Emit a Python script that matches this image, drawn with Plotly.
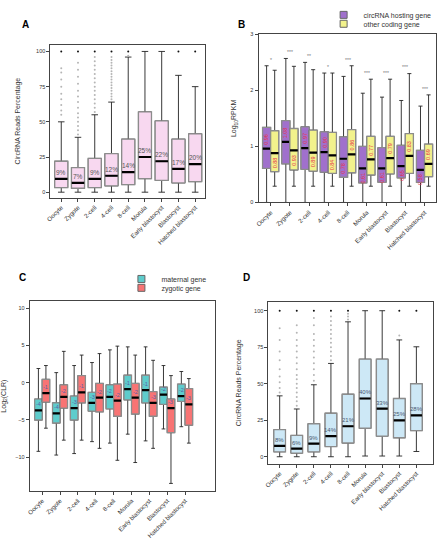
import plotly.graph_objects as go

stages = ["Oocyte", "Zygote", "2-cell", "4-cell", "8-cell", "Morula",
          "Early blastocyst", "Blastocyst", "Hatched blastocyst"]
pos = list(range(len(stages)))

# ---------------- Panel A : circRNA reads percentage ----------------
a_low = [0, 0, 0, 0, 0, 0, 0, 0, 0]
a_q1 = [3.3, 2.8, 3.3, 4.5, 5.4, 9.6, 8.4, 6.6, 7.5]
a_med = [9.4, 6.6, 9.4, 11.7, 14.3, 25.0, 22.0, 16.6, 20.0]
a_q3 = [22.0, 17.5, 24.0, 27.4, 37.7, 57.0, 50.6, 37.7, 41.5]
a_high = [50, 39, 55, 64, 96, 100, 100, 83, 75]
a_labels = ["9%", "7%", "9%", "12%", "14%", "25%", "22%", "17%", "20%"]
a_outliers = [
    [55, 58, 62, 66, 70, 75, 80, 85, 88, 100],
    [41, 44, 47, 50, 53, 56, 60, 64, 68, 72, 77, 82, 87, 92, 100],
    [57, 60, 63, 66, 69, 72, 75, 78, 81, 84, 87, 90, 93, 96, 100],
    [66, 68, 70, 72, 74, 76, 78, 80, 82, 84, 86, 88, 90, 92, 94, 96, 100],
    [97, 100],
    [],
    [],
    [100],
    [100],
]

# ---------------- Panel B : Log10 RPKM ----------------
b_host_low = [0, 0, 0, 0, 0, 0, 0, 0, 0]
b_host_q1 = [0.61, 0.69, 0.59, 0.54, 0.45, 0.35, 0.36, 0.44, 0.36]
b_host_med = [0.96, 1.08, 0.97, 0.90, 0.78, 0.61, 0.61, 0.65, 0.58]
b_host_q3 = [1.34, 1.46, 1.35, 1.26, 1.17, 1.00, 0.98, 1.02, 0.93]
b_host_high = [2.44, 2.57, 2.50, 2.31, 2.25, 1.95, 1.88, 1.82, 1.72]
b_other_low = [0.29, 0.29, 0.29, 0.29, 0.29, 0.29, 0.29, 0.29, 0.29]
b_other_q1 = [0.55, 0.58, 0.56, 0.52, 0.53, 0.49, 0.51, 0.52, 0.46]
b_other_med = [0.88, 0.93, 0.89, 0.84, 0.86, 0.77, 0.79, 0.83, 0.69]
b_other_q3 = [1.28, 1.32, 1.29, 1.25, 1.30, 1.18, 1.18, 1.23, 1.04]
b_other_high = [2.36, 2.43, 2.37, 2.31, 2.44, 2.20, 2.20, 2.30, 1.92]
b_stars = ["*", "***", "**", "*", "***", "***", "***", "***", "***"]

# ---------------- Panel C : Log2(CLR) ----------------
c_mat_low = [-9.2, -9.7, -9.5, -7.9, -8.1, -6.9, -7.8, -6.2, -5.9]
c_mat_q1 = [-5.0, -5.4, -5.0, -3.8, -3.5, -2.3, -2.7, -2.9, -2.5]
c_mat_med = [-3.7, -4.1, -3.4, -2.7, -1.9, -0.85, -1.0, -1.6, -1.8]
c_mat_q3 = [-2.2, -2.7, -1.8, -1.3, -0.3, 1.0, 1.0, -0.6, -0.2]
c_mat_high = [1.9, 1.35, 2.3, 2.7, 4.4, 4.8, 4.8, 2.3, 1.5]
c_zyg_low = [-6.1, -7.7, -7.7, -8.8, -10.4, -10.7, -8.8, -13.5, -8.1]
c_zyg_q1 = [-2.6, -3.4, -2.7, -3.9, -4.5, -4.2, -4.5, -6.7, -5.7]
c_zyg_med = [-1.4, -1.9, -1.3, -2.0, -2.4, -2.0, -2.7, -3.4, -2.9]
c_zyg_q3 = [0.45, -0.3, 0.95, -0.1, -0.2, -0.1, -1.2, -2.2, -0.8]
c_zyg_high = [2.3, 4.2, 3.7, 3.9, 4.9, 3.7, 3.0, 0.95, 0.55]
c_mat_labels = ["-4", "-4", "-3", "-3", "-2", "-1", "-1", "-2", "-2"]
c_zyg_labels = ["-1", "-2", "-1", "-2", "-2", "-2", "-3", "-3", "-3"]

# ---------------- Panel D : circRNA reads percentage ----------------
d_low = [0, 0, 0, 0, 0, 0.5, 0.5, 0.5, 3.6]
d_q1 = [3.4, 2.5, 3.4, 7.0, 9.4, 19.5, 14.1, 13.0, 17.9]
d_med = [7.4, 5.6, 9.0, 14.1, 20.9, 39.9, 33.0, 24.9, 28.3]
d_q3 = [18.6, 14.6, 22.6, 29.8, 42.8, 66.8, 66.8, 39.9, 50.0]
d_high = [41.7, 32.7, 49.3, 63.9, 92.4, 100, 100, 80, 75.3]
d_labels = ["8%", "6%", "9%", "14%", "21%", "40%", "33%", "25%", "28%"]
d_outliers = [
    [44, 47, 51, 55, 60, 66, 72, 80, 88, 100],
    [35, 38, 41, 44, 47, 50, 53, 56, 60, 64, 68, 72, 76, 80, 85, 90, 100],
    [52, 56, 60, 64, 68, 72, 76, 80, 84, 90, 95, 100],
    [66, 69, 72, 75, 78, 81, 84, 87, 90, 93, 96, 100],
    [94, 96, 98, 100],
    [],
    [],
    [83, 100],
    [100],
]

FONT = "Liberation Sans, Arial, sans-serif"
BORDER = "#8c8c8c"

fig = go.Figure()
annotations = []


def add_boxes(xs, low, q1, med, q3, high, fill, xa, ya, w):
    # whiskers
    fig.add_trace(go.Box(x=xs, q1=q1, median=med, q3=q3, lowerfence=low,
                         upperfence=high, width=w, fillcolor="rgba(0,0,0,0)",
                         line=dict(color="#222222", width=0.9), boxpoints=False,
                         showlegend=False, hoverinfo="skip", xaxis=xa, yaxis=ya))
    # body
    fig.add_trace(go.Box(x=xs, q1=q1, median=med, q3=q3, lowerfence=q1,
                         upperfence=q3, width=w, fillcolor=fill,
                         line=dict(color=BORDER, width=1.3), boxpoints=False,
                         showlegend=False, hoverinfo="skip", xaxis=xa, yaxis=ya))
    # median
    fig.add_trace(go.Box(x=xs, q1=med, median=med, q3=med, lowerfence=med,
                         upperfence=med, width=w * 0.96, fillcolor="black",
                         line=dict(color="black", width=2.2), boxpoints=False,
                         showlegend=False, hoverinfo="skip", xaxis=xa, yaxis=ya))


def add_legend_item(name, fill, legend, xa, ya):
    fig.add_trace(go.Scatter(x=[None], y=[None], mode="markers", name=name,
                             marker=dict(symbol="square", size=7, color=fill,
                                         line=dict(color="#666666", width=1)),
                             legend=legend, showlegend=True, hoverinfo="skip",
                             xaxis=xa, yaxis=ya))


def add_outliers(outl, xa, ya):
    xs, ys, cs = [], [], []
    for i, vals in enumerate(outl):
        for v in vals:
            xs.append(i)
            ys.append(v)
            cs.append("#111111" if v >= 100 else "#b5b5b5")
    fig.add_trace(go.Scatter(x=xs, y=ys, mode="markers",
                             marker=dict(size=2, color=cs, line=dict(width=0)),
                             showlegend=False, hoverinfo="skip", xaxis=xa, yaxis=ya))


def add_labels(xs, ys, texts, xr, yr, size, color):
    for xv, yv, t in zip(xs, ys, texts):
        annotations.append(dict(x=xv, y=yv, xref=xr, yref=yr, text=t,
                                showarrow=False, yanchor="bottom", yshift=1,
                                font=dict(size=size, color=color, family=FONT)))


# Panel A
add_outliers(a_outliers, "x", "y")
add_boxes(pos, a_low, a_q1, a_med, a_q3, a_high, "#f8d8f0", "x", "y", 0.78)
add_labels(pos, a_med, a_labels, "x", "y", 6.5, "#555555")

# Panel B
off = 0.21
xb_host = [p - off for p in pos]
xb_other = [p + off for p in pos]
add_boxes(xb_host, b_host_low, b_host_q1, b_host_med, b_host_q3, b_host_high,
          "#a070cc", "x2", "y2", 0.42)
add_boxes(xb_other, b_other_low, b_other_q1, b_other_med, b_other_q3, b_other_high,
          "#f2f28c", "x2", "y2", 0.42)
add_legend_item("circRNA hosting gene", "#a070cc", "legend", "x2", "y2")
add_legend_item("other coding gene", "#f2f28c", "legend2", "x2", "y2")

for i in pos:
    hm, om = b_host_med[i], b_other_med[i]
    for xv, mv, other in ((xb_host[i], hm, om), (xb_other[i], om, hm)):
        above = mv >= other
        annotations.append(dict(x=xv, y=mv, xref="x2", yref="y2",
                                text="%.2f" % mv, textangle=-90, showarrow=False,
                                yanchor="bottom" if above else "top",
                                yshift=2 if above else -2,
                                font=dict(size=5.5, color="#e8304a", family=FONT)))
    annotations.append(dict(x=i, y=max(b_host_high[i], b_other_high[i]) + 0.02,
                            xref="x2", yref="y2", text=b_stars[i], showarrow=False,
                            yanchor="bottom", font=dict(size=5, color="#777777",
                                                        family=FONT)))

# Panel C
offc = 0.21
xc_mat = [p - offc for p in pos]
xc_zyg = [p + offc for p in pos]
add_boxes(xc_mat, c_mat_low, c_mat_q1, c_mat_med, c_mat_q3, c_mat_high,
          "#5ecccc", "x3", "y3", 0.42)
add_boxes(xc_zyg, c_zyg_low, c_zyg_q1, c_zyg_med, c_zyg_q3, c_zyg_high,
          "#f87474", "x3", "y3", 0.42)
add_legend_item("maternal gene", "#5ecccc", "legend3", "x3", "y3")
add_legend_item("zygotic gene", "#f87474", "legend4", "x3", "y3")
add_labels(xc_mat + xc_zyg, c_mat_med + c_zyg_med, c_mat_labels + c_zyg_labels,
           "x3", "y3", 5.5, "#5a5fa8")

# Panel D
add_outliers(d_outliers, "x4", "y4")
add_boxes(pos, d_low, d_q1, d_med, d_q3, d_high, "#cde8f6", "x4", "y4", 0.68)
add_labels(pos, d_med, d_labels, "x4", "y4", 6, "#4a5870")

for letter, xp, yp in (("A", 14, 22), ("B", 233, 22), ("C", 11, 278), ("D", 238, 278)):
    annotations.append(dict(x=xp / 441, y=1 - yp / 547, xref="paper", yref="paper",
                            text="<b>%s</b>" % letter, showarrow=False,
                            xanchor="left", yanchor="middle",
                            font=dict(size=10, color="black", family=FONT)))

tickfont = dict(size=5.5, color="#333333", family=FONT)
titlefont = dict(size=7, color="#333333", family=FONT)


def xax(domain, anchor, rng):
    return dict(domain=domain, anchor=anchor, range=rng, tickmode="array",
                tickvals=pos, ticktext=stages, tickangle=-45,
                tickfont=dict(size=6.2, color="#333333", family=FONT),
                showline=True, linecolor="#444444", linewidth=1, mirror=True,
                ticks="outside", ticklen=3, tickcolor="#444444", showgrid=False,
                zeroline=False)


def yax(domain, anchor, rng, tickvals, title, standoff):
    return dict(domain=domain, anchor=anchor, range=rng, tickmode="array",
                tickvals=tickvals, tickfont=tickfont,
                title=dict(text=title, font=titlefont, standoff=standoff),
                showline=True, linecolor="#444444", linewidth=1, mirror=True,
                ticks="outside", ticklen=3, tickcolor="#444444", showgrid=False,
                zeroline=False)


def leg(xp, yp):
    return dict(x=xp / 441, y=1 - yp / 547, xanchor="left", yanchor="middle",
                font=dict(size=7, color="#333333", family=FONT),
                bgcolor="rgba(0,0,0,0)", itemwidth=30, borderwidth=0)


fig.update_layout(
    width=441, height=547, margin=dict(l=0, r=0, t=0, b=0),
    paper_bgcolor="white", plot_bgcolor="white", boxmode="overlay",
    font=dict(family=FONT, color="#333333"),
    xaxis=xax([0.1020, 0.4580], "y", [-0.65, 8.6]),
    yaxis=yax([0.6404, 0.9227], "x", [-3.8, 104.7], [0, 25, 50, 75, 100],
              "CircRNA Reads Percentage", 14),
    xaxis2=xax([0.5805, 0.9887], "y2", [-0.63, 8.6]),
    yaxis2=yax([0.6313, 0.9420], "x2", [0, 3.0], [0, 1, 2, 3],
               "Log<sub>10</sub>RPKM", 12),
    xaxis3=xax([0.0544, 0.4807], "y3", [-0.7, 9.68]),
    yaxis3=yax([0.0982, 0.4485], "x3", [-14.5, 10.9], [-10, -5, 0, 5, 10],
               "Log<sub>2</sub>(CLR)", 10),
    xaxis4=xax([0.6032, 0.9819], "y4", [-0.66, 8.98]),
    yaxis4=yax([0.1486, 0.4474], "x4", [-4.7, 106], [0, 25, 50, 75, 100],
               "CircRNA Reads Percentage", 11),
    legend=leg(322, 12),
    legend2=leg(322, 21),
    legend3=leg(117, 279),
    legend4=leg(117, 288),
    annotations=annotations,
)

fig.write_html("out.html", config={"displayModeBar": False},
               post_script="document.body.style.margin='0';"
                           "document.body.style.overflow='hidden';")
